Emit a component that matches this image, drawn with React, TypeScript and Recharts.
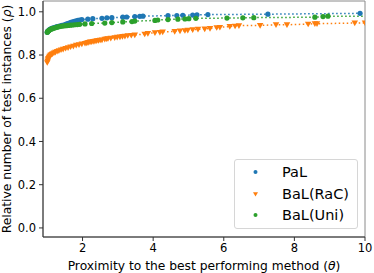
import React from 'react'
import { LineChart, Line, XAxis, YAxis, Label, ReferenceArea } from 'recharts'

// PaL
const palTheta = [1.0, 1.01, 1.03, 1.05, 1.07, 1.1, 1.13, 1.16, 1.2, 1.24, 1.28, 1.32, 1.37, 1.42, 1.47, 1.52, 1.57, 1.62, 1.67, 1.72, 1.77, 1.82, 1.87, 1.92, 1.98, 2.15, 2.29, 2.55, 2.69, 2.83, 3.14, 3.25, 3.48, 3.62, 3.71, 4.42, 4.67, 4.84, 5.12, 5.24, 5.55, 7.25, 9.86]
const palRho = [0.905, 0.909, 0.912, 0.915, 0.918, 0.921, 0.923, 0.925, 0.927, 0.929, 0.931, 0.933, 0.935, 0.937, 0.939, 0.942, 0.945, 0.948, 0.951, 0.954, 0.956, 0.958, 0.96, 0.962, 0.964, 0.966, 0.968, 0.97, 0.972, 0.973, 0.975, 0.976, 0.978, 0.979, 0.98, 0.982, 0.983, 0.984, 0.985, 0.986, 0.987, 0.989, 0.993]

// BaL(RaC)
const racTheta = [1.0, 1.01, 1.02, 1.03, 1.05, 1.07, 1.09, 1.12, 1.15, 1.19, 1.23, 1.28, 1.33, 1.39, 1.45, 1.52, 1.59, 1.66, 1.74, 1.82, 1.9, 1.98, 2.07, 2.12, 2.16, 2.21, 2.25, 2.3, 2.35, 2.4, 2.45, 2.5, 2.55, 2.63, 2.68, 2.72, 2.8, 2.91, 2.98, 3.06, 3.13, 3.2, 3.28, 3.38, 3.48, 3.76, 3.85, 4.05, 4.19, 4.27, 4.61, 4.76, 4.9, 4.98, 5.12, 5.27, 5.46, 5.61, 5.8, 5.89, 6.17, 6.32, 6.43, 7.03, 7.48, 7.79, 8.39, 8.58, 8.64, 9.71, 10.0]
const racRho = [0.765, 0.772, 0.778, 0.784, 0.79, 0.795, 0.799, 0.803, 0.806, 0.81, 0.813, 0.817, 0.82, 0.824, 0.827, 0.831, 0.834, 0.838, 0.841, 0.845, 0.848, 0.851, 0.854, 0.856, 0.858, 0.86, 0.861, 0.863, 0.864, 0.866, 0.867, 0.869, 0.87, 0.873, 0.875, 0.876, 0.878, 0.88, 0.882, 0.884, 0.886, 0.887, 0.89, 0.891, 0.893, 0.897, 0.9, 0.903, 0.905, 0.907, 0.909, 0.911, 0.913, 0.915, 0.917, 0.919, 0.921, 0.923, 0.927, 0.928, 0.932, 0.934, 0.936, 0.937, 0.94, 0.94, 0.943, 0.945, 0.945, 0.948, 0.949]

// BaL(Uni)
const uniTheta = [1.0, 1.01, 1.03, 1.05, 1.07, 1.1, 1.13, 1.16, 1.2, 1.24, 1.28, 1.33, 1.38, 1.43, 1.48, 1.54, 1.6, 1.66, 1.72, 1.78, 1.85, 1.92, 2.07, 2.26, 2.63, 2.83, 3.14, 3.4, 3.48, 4.05, 4.13, 4.42, 4.7, 4.9, 5.01, 5.21, 6.09, 6.54, 6.85, 8.58, 8.81, 8.95, 10.6]
const uniRho = [0.905, 0.908, 0.911, 0.914, 0.917, 0.919, 0.921, 0.923, 0.925, 0.927, 0.929, 0.931, 0.933, 0.934, 0.935, 0.936, 0.937, 0.938, 0.939, 0.94, 0.941, 0.942, 0.944, 0.946, 0.948, 0.95, 0.953, 0.955, 0.957, 0.96, 0.962, 0.964, 0.966, 0.967, 0.968, 0.97, 0.971, 0.972, 0.973, 0.975, 0.978, 0.98, 0.98]

const xTicks = [2, 4, 6, 8, 10]
const yTicks = [0, 0.2, 0.4, 0.6, 0.8, 1.0]
const xDomain = [0.88, 10]
const yDomain = [-0.042, 1.05]

const FONT = 'DejaVu Sans'

const zip = (xs: number[], ys: number[]) => xs.map((x, i) => ({ x, y: ys[i] }))

const series = [
  { name: 'PaL', color: '#1f77b4', marker: 'circle', data: zip(palTheta, palRho) },
  { name: 'BaL(RaC)', color: '#ff7f0e', marker: 'triangle', data: zip(racTheta, racRho) },
  { name: 'BaL(Uni)', color: '#2ca02c', marker: 'circle', data: zip(uniTheta, uniRho) },
]

function Marker({ cx, cy, color, kind, size = 2.6 }: { cx: number; cy: number; color: string; kind: string; size?: number }) {
  if (cx == null || cy == null) return null
  if (kind === 'triangle') {
    const s = size * 1.25
    return <path d={`M${cx - s},${cy - s * 0.75} L${cx + s},${cy - s * 0.75} L${cx},${cy + s} Z`} fill={color} />
  }
  return <circle cx={cx} cy={cy} r={size} fill={color} />
}

function ChartLegend() {
  return (
    <div
      style={{
        position: 'absolute',
        left: 234,
        top: 159,
        width: 124,
        height: 70,
        boxSizing: 'border-box',
        border: '1px solid #d6d6d6',
        borderRadius: 3,
        background: 'rgba(255,255,255,0.8)',
        fontFamily: FONT,
        fontSize: 14.5,
        color: '#000',
      }}
    >
      {series.map((s, i) => (
        <div key={s.name} style={{ position: 'absolute', left: 0, top: 3 + i * 21.7, height: 18, width: '100%' }}>
          <svg width={30} height={18} style={{ position: 'absolute', left: 6, top: 0 }}>
            <Marker cx={14.5} cy={9} color={s.color} kind={s.marker} size={2} />
          </svg>
          <span style={{ position: 'absolute', left: 47, top: 0, lineHeight: '18px' }}>{s.name}</span>
        </div>
      ))}
    </div>
  )
}

export default function App() {
  return (
    <div style={{ position: 'absolute', left: 0, top: 0, width: 374, height: 273, background: '#fff' }}>
      <LineChart width={374} height={273} margin={{ top: 1, right: 9, bottom: 0, left: 0 }}>
        {/* plot frame (top/right spines) */}
        <ReferenceArea
          x1={xDomain[0]}
          x2={xDomain[1]}
          y1={yDomain[0]}
          y2={yDomain[1]}
          fill="none"
          stroke="#8a8a8a"
          strokeWidth={1}
          ifOverflow="visible"
        />
        <XAxis
          dataKey="x"
          type="number"
          domain={xDomain}
          ticks={xTicks}
          allowDataOverflow
          height={36}
          tickSize={4}
          tickMargin={3}
          stroke="#333"
          tick={{ fill: '#000', fontSize: 11.5, fontFamily: FONT }}
        >
          <Label
            content={({ viewBox }: any) => (
              <text x={viewBox.x + viewBox.width / 2} y={270} textAnchor="middle" fontFamily={FONT} fontSize={12.3} fill="#000">
                Proximity to the best performing method (<tspan fontStyle="italic">θ</tspan>)
              </text>
            )}
          />
        </XAxis>
        <YAxis
          type="number"
          domain={yDomain}
          ticks={yTicks}
          allowDataOverflow
          width={43}
          tickSize={4}
          tickMargin={3}
          stroke="#333"
          tickFormatter={(v: number) => v.toFixed(1)}
          tick={{ fill: '#000', fontSize: 11.5, fontFamily: FONT }}
        >
          <Label
            content={({ viewBox }: any) => {
              const cy = viewBox.y + viewBox.height / 2
              return (
                <text x={10.5} y={cy} transform={`rotate(-90, 10.5, ${cy})`} textAnchor="middle" fontFamily={FONT} fontSize={12.3} fill="#000">
                  Relative number of test instances (<tspan fontStyle="italic">ρ</tspan>)
                </text>
              )
            }}
          />
        </YAxis>
        {series.map((s) => (
          <Line
            key={s.name}
            data={s.data}
            dataKey="y"
            name={s.name}
            type="linear"
            stroke={s.color}
            strokeWidth={1.5}
            strokeDasharray="1.5 2.5"
            isAnimationActive={false}
            dot={(p: any) => <Marker key={`${s.name}-${p.index}`} cx={p.cx} cy={p.cy} color={s.color} kind={s.marker} />}
            activeDot={false}
          />
        ))}
      </LineChart>
      <ChartLegend />
    </div>
  )
}
